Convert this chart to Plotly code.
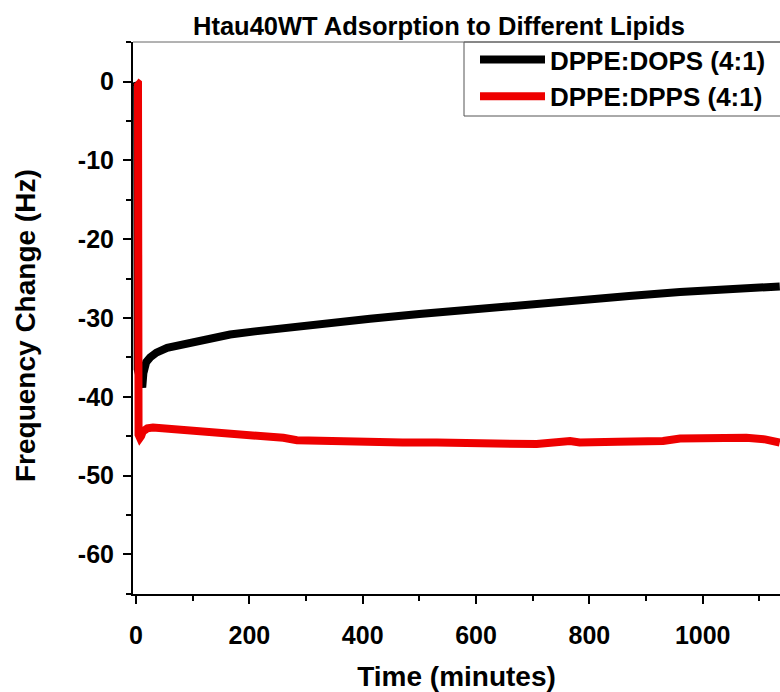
import plotly.graph_objects as go

# Frequency traces (time in minutes, frequency change in Hz)
dops_time = [0, 2, 3, 8, 11, 13, 18, 25, 36, 55, 78, 120, 166, 210, 254, 300,
             342, 413, 500, 589, 700, 783, 870, 960, 1050, 1136]
dops_freq = [0, -0.5, -36.5, -37.6, -38.8, -37.0, -35.6, -35.0, -34.4, -33.8,
             -33.4, -32.8, -32.1, -31.7, -31.3, -30.9, -30.6, -30.1, -29.5,
             -28.9, -28.1, -27.6, -27.2, -26.7, -26.4, -26.0]

dpps_time = [0, 3.5, 4.5, 7, 9, 12, 20, 30, 50, 78, 100, 136, 180, 225, 260,
             284, 342, 380, 425, 448, 470, 531, 600, 648, 707, 766, 783, 850,
             930, 960, 1020, 1077, 1110, 1124, 1136]
dpps_freq = [0, -0.2, -44.8, -45.2, -45.0, -44.4, -44.0, -43.9, -44.0, -44.3,
             -44.5, -44.6, -44.8, -45.0, -45.2, -45.5, -45.6, -45.7, -45.9,
             -46.0, -45.8, -45.8, -45.8, -45.8, -46.0, -45.6, -45.8, -45.7,
             -45.6, -45.3, -45.2, -45.2, -45.4, -45.6, -45.8]

series_names = ["DPPE:DOPS (4:1)", "DPPE:DPPS (4:1)"]
series_colors = ["#000000", "#ee0000"]

x_ticks = [0, 200, 400, 600, 800, 1000]
x_labels = ["0", "200", "400", "600", "800", "1000"]
y_ticks = [0, -10, -20, -30, -40, -50, -60]
y_labels = ["0", "-10", "-20", "-30", "-40", "-50", "-60"]

FONT = "Liberation Sans, Arial, sans-serif"
W, H = 780, 692
L, R, T, B = 133, 0, 42, 98
PW, PH = W - L - R, H - T - B


def px_x(p):
    return (p - L) / PW


def px_y(p):
    return 1 - (p - T) / PH


fig = go.Figure()
fig.add_trace(go.Scatter(x=dops_time, y=dops_freq, mode="lines",
                         name=series_names[0],
                         line=dict(color=series_colors[0], width=8)))
fig.add_trace(go.Scatter(x=dpps_time, y=dpps_freq, mode="lines",
                         name=series_names[1],
                         line=dict(color=series_colors[1], width=8)))

axis_common = dict(
    showgrid=False, zeroline=False, showline=True, linecolor="black",
    linewidth=2, ticks="outside", ticklen=8, tickwidth=2, tickcolor="black",
    tickfont=dict(family=FONT, size=25, color="black", weight="bold"),
    mirror=False,
)

fig.update_layout(
    width=W, height=H,
    margin=dict(l=L, r=R, t=T, b=B, autoexpand=False),
    paper_bgcolor="white", plot_bgcolor="white",
    title=dict(text="Htau40WT Adsorption to Different Lipids",
               font=dict(family=FONT, size=25.5, color="black", weight="bold"),
               x=439 / W, xanchor="center", xref="container",
               y=1 - 26 / H, yanchor="middle", yref="container"),
    xaxis=dict(range=[-5.3, 1136.4], tickvals=x_ticks, ticktext=x_labels,
               ticklabelstandoff=10,
               minor=dict(ticks="outside", ticklen=5, tickwidth=2,
                          tickcolor="black", dtick=100, tick0=0),
               title=dict(text="Time (minutes)", standoff=22,
                          font=dict(family=FONT, size=28, color="black",
                                    weight="bold")),
               **axis_common),
    yaxis=dict(range=[-65.02, 5.02], tickvals=y_ticks, ticktext=y_labels,
               ticklabelstandoff=4,
               minor=dict(ticks="outside", ticklen=5, tickwidth=2,
                          tickcolor="black", dtick=5, tick0=0),
               **axis_common),
    legend=dict(x=px_x(475), y=px_y(36), xanchor="left", yanchor="top",
                bgcolor="rgba(0,0,0,0)", borderwidth=0,
                itemwidth=65,
                font=dict(family=FONT, size=26, color="black", weight="bold")),
    annotations=[
        # y-axis title
        dict(text="Frequency Change (Hz)", textangle=-90, showarrow=False,
             xref="paper", yref="paper", x=px_x(25), y=px_y(326),
             xanchor="center", yanchor="middle",
             font=dict(family=FONT, size=28, color="black", weight="bold")),
    ],
    shapes=[
        # thin frame line along the top of the plot area
        dict(type="line", xref="paper", yref="paper", x0=0, x1=1,
             y0=1, y1=1, line=dict(color="#666666", width=1)),
        # legend frame, running past the right edge
        dict(type="rect", xref="paper", yref="paper",
             x0=px_x(464), x1=px_x(800), y0=px_y(116), y1=1,
             line=dict(color="#555555", width=1), fillcolor="white",
             layer="below"),
    ],
)

fig.write_html("out.html")
